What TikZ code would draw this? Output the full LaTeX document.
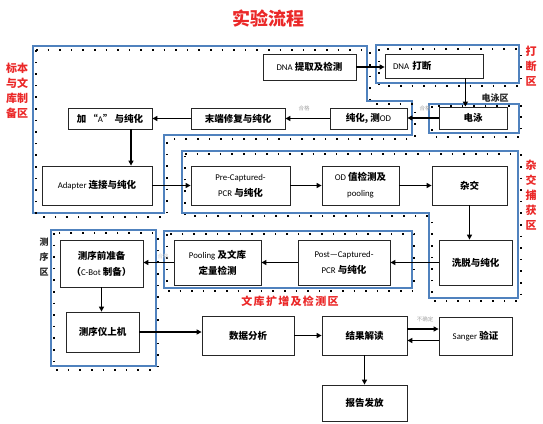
\documentclass[tikz,border=0pt]{standalone}
\usepackage{fontspec}
\setmainfont{Carlito}
\newfontfamily\cjk{Noto Sans CJK SC}
\newfontfamily\cjksp{Noto Sans CJK SC}[LetterSpace=12]
\newfontfamily\latf{Carlito}
\usetikzlibrary{arrows.meta}
\definecolor{regblue}{RGB}{80,130,190}
\definecolor{lblred}{RGB}{235,40,40}
\newcommand{\la}[1]{{\latf\mdseries\fontsize{8.8}{10}\selectfont #1}}
\begin{document}
\begin{tikzpicture}[x=1pt,y=-1pt,
 box/.style={draw=black!85, line width=0.8pt, fill=white, align=center, inner sep=1pt, font=\cjk\bfseries\fontsize{9.5}{16}\selectfont},
 arr/.style={-{Triangle[length=5pt,width=5pt]}, line width=1.3pt},
 blueline/.style={draw=regblue, line width=1.1pt},
 dotline/.style={draw=black, line width=1.6pt, dash pattern=on 1.6pt off 10pt},
 redlbl/.style={text=lblred, font=\cjk\bfseries\fontsize{11}{15}\selectfont, align=center, inner sep=0pt},
 blklbl/.style={text=black!85, font=\cjk\bfseries\fontsize{9}{15}\selectfont, align=center, inner sep=0pt},
 note/.style={text=black!35, font=\cjk\fontsize{5.5}{6}\selectfont, inner sep=0pt}]
\useasboundingbox[fill=white] (0,0) rectangle (543,423);

% title
\node[text=lblred, font=\cjk\bfseries\fontsize{18}{20}\selectfont] (title) at (268,19) {实验流程};

% regions
\draw[blueline] (33,46) -- (367,46) -- (367,101) -- (412,101) -- (412,135) -- (164,135) -- (164,213) -- (33,213) -- cycle;
\draw[dotline] (36,50) -- (370,50) -- (370,104) -- (415,104) -- (415,139) -- (167,139) -- (167,217) -- (36,217) -- cycle;
\draw[blueline] (376,45) rectangle (519,83);
\draw[dotline] (379,49) rectangle (521,86);
\draw[blueline] (429,104) rectangle (519,133);
\draw[dotline] (432,106) rectangle (521,137);
\draw[blueline] (182,151) -- (518,151) -- (518,298) -- (429,298) -- (429,213) -- (182,213) -- cycle;
\draw[dotline] (185,154) -- (521,154) -- (521,301) -- (432,301) -- (432,216) -- (185,216) -- cycle;
\draw[blueline] (164,231) rectangle (412,288);
\draw[dotline] (167,234) rectangle (414,291);
\draw[blueline] (51,230) rectangle (156,366);
\draw[dotline] (54,233) rectangle (158,370);

% region labels
\node[redlbl] (lblA) at (17,91) {标本\\与文\\库制\\备区};
\node[redlbl] (lblB) at (531,66.5) {打\\断\\区};
\node[redlbl] (lblC) at (531,195) {杂\\交\\捕\\获\\区};
\node[redlbl, font=\cjksp\bfseries\fontsize{11}{14}\selectfont] (lblD) at (290,301) {文库扩增及检测区};
\node[blklbl] (lblE) at (44,257) {测\\序\\区};
\node[blklbl] (lblF) at (495,98) {电泳区};

% boxes
\node[box, minimum width=93pt, minimum height=26pt] (dna) at (309.5,67) {\la{DNA} 提取及检测};
\node[box, minimum width=98pt, minimum height=24pt, text width=82pt, align=left] (frag) at (434,66) {\la{DNA} 打断};
\node[box, minimum width=68pt, minimum height=22pt] (dy) at (473,118) {电泳};
\node[box, minimum width=77pt, minimum height=21pt] (chun) at (368.5,118.5) {纯化, 测\la{OD}};
\node[box, minimum width=94pt, minimum height=21pt] (mod) at (238,118.5) {末端修复与纯化};
\node[box, minimum width=84pt, minimum height=21pt] (addA) at (110,118.5) {加 “\la{A}” 与纯化};
\node[box, minimum width=110pt, minimum height=39pt] (adapter) at (97,185.5) {\la{Adapter} 连接与纯化};
\node[box, minimum width=99pt, minimum height=39pt] (pre) at (240.5,185.5) {\la{Pre-Captured-}\\\la{PCR} 与纯化};
\node[box, minimum width=77pt, minimum height=39pt] (od) at (360.5,185.5) {\la{OD} 值检测及\\\la{pooling}};
\node[box, minimum width=75pt, minimum height=39pt] (hyb) at (469.5,185.5) {杂交};
\node[box, minimum width=73pt, minimum height=45pt] (wash) at (475.5,262.5) {洗脱与纯化};
\node[box, minimum width=92pt, minimum height=45pt] (post) at (344,262.5) {\la{Post—Captured-}\\\la{PCR} 与纯化};
\node[box, minimum width=87pt, minimum height=45pt] (pool) at (217.5,262.5) {\la{Pooling} 及文库\\定量检测};
\node[box, minimum width=83pt, minimum height=47pt] (prep) at (101.5,263.5) {测序前准备\\（\la{C-Bot} 制备）};
\node[box, minimum width=73pt, minimum height=40pt] (seq) at (102.5,332) {测序仪上机};
\node[box, minimum width=92pt, minimum height=39pt] (data) at (248,335.5) {数据分析};
\node[box, minimum width=85pt, minimum height=39pt] (res) at (364.5,335.5) {结果解读};
\node[box, minimum width=73pt, minimum height=38pt] (sanger) at (475.5,336) {\la{Sanger} 验证};
\node[box, minimum width=85pt, minimum height=36pt] (report) at (364.5,403) {报告发放};

% notes
\node[note] (n1) at (425,108) {合格};
\node[note] (n2) at (304,108) {合格};
\node[note, text=black!18] (n3) at (163,256) {合格};
\node[note] (n4) at (425,319) {不确定};

% connectors
\draw[arr] (dna.east) -- (frag.west |- dna.east);
\draw[arr] ([xshift=-18pt]frag.south east) -- ([xshift=-18pt]frag.south east |- dy.north);
\draw[arr] (dy.west) -- (chun.east |- dy.west);
\draw[arr] (chun.west) -- (mod.east);
\draw[arr] (mod.west) -- (addA.east);
\draw[arr] ([xshift=21pt]addA.south) -- ([xshift=21pt]addA.south |- adapter.north);
\draw[arr] (adapter.east) -- (pre.west);
\draw[arr] (pre.east) -- (od.west);
\draw[arr] (od.east) -- (hyb.west);
\draw[arr] (hyb.south) -- (hyb.south |- wash.north);
\draw[arr] (wash.west) -- (post.east |- wash.west);
\draw[arr] (post.west) -- (pool.east |- post.west);
\draw[arr] (pool.west) -- (prep.east |- pool.west);
\draw[arr] (prep.south) -- (prep.south |- seq.north);
\draw[arr] (seq.east) -- (data.west |- seq.east);
\draw[arr] (data.east) -- (res.west);
\draw[arr] ([yshift=6.5pt]res.east) -- ([yshift=6.5pt]res.east -| sanger.west);
\draw[arr] ([yshift=-4.5pt]sanger.west) -- ([yshift=-4.5pt]sanger.west -| res.east);
\draw[arr] (res.south) -- (report.north);
\end{tikzpicture}
\end{document}
